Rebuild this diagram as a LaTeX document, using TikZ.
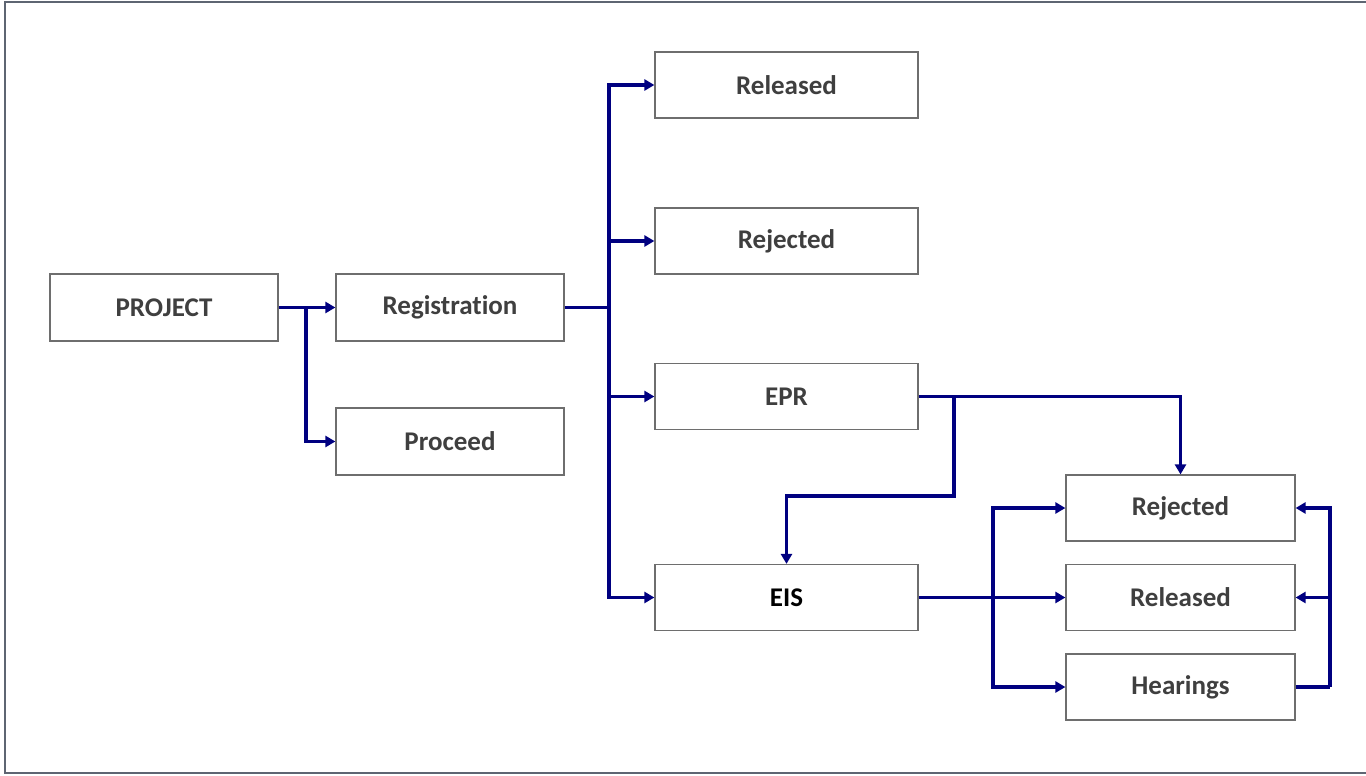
\documentclass[tikz,border=0pt]{standalone}
\usepackage{fontspec}
\setmainfont{Carlito}[Ligatures=NoCommon]
\usetikzlibrary{arrows.meta}
\definecolor{navyline}{HTML}{000080}
\definecolor{boxline}{HTML}{6E6E6E}
\definecolor{txt}{HTML}{3F3F3F}
\definecolor{frameline}{HTML}{5E6572}
\tikzset{
  box/.style={draw=boxline, line width=1.2pt, fill=white, text=txt,
    font=\fontsize{27}{32}\selectfont\bfseries, inner sep=0pt},
  boxA/.style={box, minimum width=228pt, minimum height=67pt},
  boxB/.style={box, minimum width=263pt, minimum height=66pt},
  boxC/.style={box, minimum width=229pt, minimum height=66pt},
  wire/.style={draw=navyline, line width=3.4pt},
  conn/.style={wire, -{Triangle[length=10pt,width=11pt]}},
}
\begin{document}
\begin{tikzpicture}[x=1pt,y=-1pt]
\useasboundingbox (0,0) rectangle (1366,776);
\draw[frameline, line width=2pt] (1366,2) -- (5,2) -- (5,773) -- (1366,773);

\node[boxA] (project) at (164,307.5) {PROJECT};
\node[boxA] (reg) at (450,307.5) {Registration};
\node[boxA] (proceed) at (450,441.5) {Proceed};
\node[boxB] (rel1) at (786.5,85) {Released};
\node[boxB] (rej1) at (786.5,241) {Rejected};
\node[boxB] (epr) at (786.5,396.5) {EPR};
\node[boxB, text=black] (eis) at (786.5,597.5) {EIS};
\node[boxC] (rej2) at (1180.5,508) {Rejected};
\node[boxC] (rel2) at (1180.5,597.5) {Released};
\node[boxC] (hear) at (1180.5,687) {Hearings};

% PROJECT
\coordinate (j1) at (306,307.5);
\draw[conn] (project.east) -- (reg.west);
\draw[conn] (j1) |- (proceed.west);

% Registration
\coordinate (j2) at (609,307.5);
\draw[wire] (reg.east) -- (j2);
\draw[conn] (j2) |- (rel1.west);
\draw[conn] (j2) |- (rej1.west);
\draw[conn] (j2) |- (epr.west);
\draw[conn] (j2) |- (eis.west);

% EPR
\coordinate (j3) at (954,396.5);
\coordinate (k3) at (954,496);
\draw[conn] (epr.east) -| (rej2.north);
\draw[conn] (j3) -- (k3) -| (eis.north);

% EIS
\coordinate (j4) at (993,597.5);
\draw[conn] (eis.east) -- (rel2.west);
\draw[conn] (j4) |- (rej2.west);
\draw[conn] (j4) |- (hear.west);

% Hearings
\coordinate (j5) at (1330,687);
\draw[wire] (hear.east) -- (j5);
\draw[conn] (j5) |- (rej2.east);
\draw[conn] (j5) |- (rel2.east);
\end{tikzpicture}
\end{document}
